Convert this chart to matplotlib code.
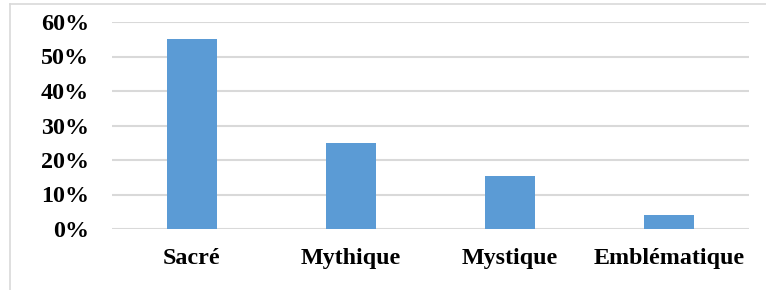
import matplotlib
matplotlib.use("Agg")
import matplotlib.pyplot as plt
from matplotlib.lines import Line2D
from matplotlib.ticker import FuncFormatter

categories = ["Sacré", "Mythique", "Mystique", "Emblématique"]
values = [0.55, 0.25, 0.155, 0.04]
yticks = [0, 0.1, 0.2, 0.3, 0.4, 0.5, 0.6]

plt.rcParams['font.family'] = ['Liberation Serif', 'DejaVu Serif']
plt.rcParams['font.weight'] = 'bold'

fig = plt.figure(figsize=(7.66, 2.90), dpi=100)
W, H = 766, 290
ax = fig.add_axes([112 / W, 1 - 229 / H, (749 - 112) / W, (229 - 22) / H])

x = list(range(len(categories)))
ax.bar(x, values, width=0.314, color="#5b9bd5", zorder=3)
ax.set_xlim(-0.5, len(categories) - 0.5)
ax.set_ylim(0, 0.6)
ax.set_yticks(yticks)
ax.yaxis.set_major_formatter(FuncFormatter(lambda v, p: f"{v*100:.0f}%"))
ax.set_xticks(x)
ax.set_xticklabels(categories)
ax.tick_params(axis='both', length=0, labelsize=17.3)
ax.tick_params(axis='y', pad=16.5)
ax.tick_params(axis='x', pad=14)
for lab in ax.get_xticklabels() + ax.get_yticklabels():
    lab.set_fontweight('bold')
ax.grid(axis='y', color='#d9d9d9', linewidth=1.5, zorder=0)
for s in ax.spines.values():
    s.set_visible(False)

# outer frame (left and top visible)
fig.add_artist(Line2D([9.5 / W, 9.5 / W], [0, 1 - 4 / H], color='#d9d9d9', linewidth=1.2,
                      transform=fig.transFigure))
fig.add_artist(Line2D([9.5 / W, 1], [1 - 4 / H, 1 - 4 / H], color='#d9d9d9', linewidth=1.2,
                      transform=fig.transFigure))

fig.savefig("out.png", dpi=100)
